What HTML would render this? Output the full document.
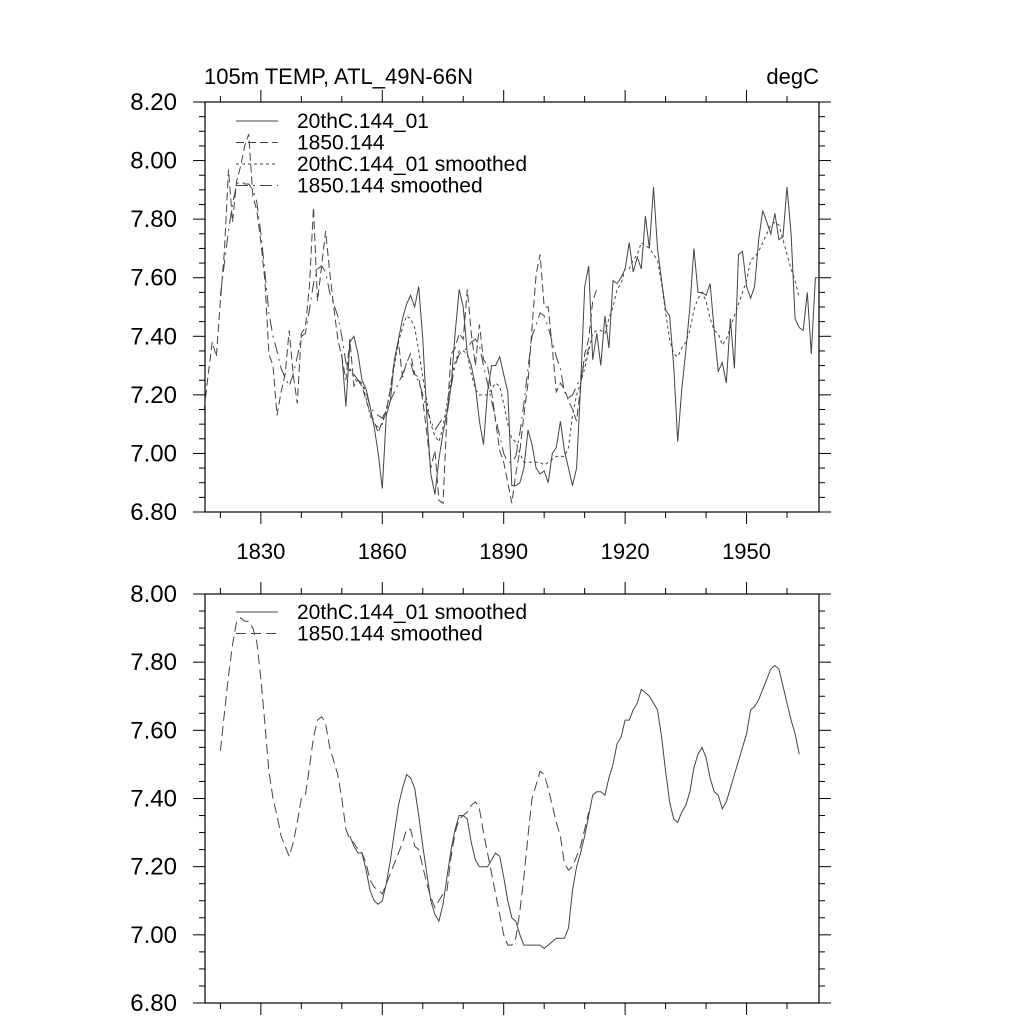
<!DOCTYPE html>
<html><head><meta charset="utf-8">
<style>
html,body{margin:0;padding:0;background:#fff;}
svg{display:block;font-family:"Liberation Sans",sans-serif;}
</style></head>
<body>
<svg id="chart" width="1024" height="1024" viewBox="0 0 1024 1024"></svg>
<script>
// ---- data ----
const yearsDashed = [];for(let y=1816;y<=1913;y++)yearsDashed.push(y);
const series1850 = [7.15,7.27,7.38,7.33,7.52,7.69,7.97,7.79,7.93,7.98,8.05,8.09,7.88,7.83,7.72,7.59,7.34,7.30,7.13,7.21,7.27,7.42,7.27,7.17,7.41,7.43,7.57,7.84,7.52,7.64,7.76,7.62,7.50,7.39,7.33,7.25,7.39,7.23,7.25,7.23,7.18,7.14,7.11,7.07,7.11,7.14,7.22,7.32,7.38,7.26,7.31,7.34,7.27,7.26,7.18,7.07,6.95,7.01,6.84,6.83,7.13,7.34,7.36,7.41,7.39,7.56,7.41,7.30,7.44,7.32,7.30,7.21,7.11,7.01,6.97,6.90,6.83,6.93,7.01,7.13,7.24,7.43,7.61,7.68,7.50,7.50,7.36,7.21,7.24,7.22,7.18,7.15,7.11,7.23,7.34,7.39,7.52,7.56];
const years20th = [];for(let y=1850;y<=1968;y++)years20th.push(y);
const series20th = [7.34,7.16,7.38,7.40,7.34,7.25,7.22,7.16,7.09,7.00,6.88,7.13,7.18,7.32,7.39,7.46,7.51,7.54,7.50,7.57,7.39,7.13,6.93,6.86,6.98,7.07,7.14,7.23,7.41,7.56,7.50,7.34,7.30,7.23,7.11,7.03,7.21,7.30,7.30,7.33,7.27,7.21,6.89,6.89,6.90,6.95,7.08,7.03,6.95,6.93,6.94,6.90,7.00,7.02,7.11,7.01,6.95,6.89,6.95,7.23,7.57,7.64,7.32,7.41,7.30,7.47,7.36,7.59,7.58,7.60,7.63,7.72,7.62,7.67,7.63,7.81,7.70,7.91,7.70,7.59,7.49,7.47,7.30,7.04,7.22,7.35,7.50,7.70,7.55,7.55,7.54,7.58,7.42,7.28,7.31,7.24,7.46,7.29,7.68,7.69,7.57,7.53,7.57,7.73,7.83,7.79,7.75,7.82,7.73,7.74,7.91,7.75,7.46,7.43,7.42,7.55,7.34,7.60,7.60];
const yearsSm1850 = [];for(let y=1820;y<=1911;y++)yearsSm1850.push(y);
const smooth1850 = [7.54,7.65,7.76,7.85,7.92,7.93,7.92,7.92,7.90,7.86,7.75,7.62,7.48,7.40,7.35,7.29,7.26,7.23,7.27,7.33,7.40,7.41,7.49,7.58,7.63,7.64,7.62,7.55,7.51,7.47,7.40,7.31,7.28,7.27,7.25,7.24,7.21,7.16,7.14,7.13,7.12,7.15,7.18,7.21,7.24,7.27,7.31,7.31,7.26,7.25,7.20,7.15,7.11,7.08,7.10,7.12,7.13,7.23,7.30,7.34,7.35,7.36,7.38,7.39,7.37,7.30,7.24,7.18,7.12,7.06,7.00,6.97,6.97,6.99,7.07,7.17,7.29,7.40,7.44,7.48,7.47,7.43,7.38,7.33,7.29,7.21,7.19,7.20,7.23,7.26,7.31,7.36];
const yearsSm20th = [];for(let y=1852;y<=1963;y++)yearsSm20th.push(y);
const smooth20th = [7.29,7.26,7.24,7.24,7.19,7.13,7.10,7.09,7.10,7.15,7.22,7.30,7.38,7.43,7.47,7.46,7.43,7.35,7.26,7.18,7.10,7.06,7.04,7.09,7.17,7.25,7.31,7.35,7.35,7.34,7.27,7.22,7.20,7.20,7.20,7.22,7.24,7.23,7.17,7.10,7.05,7.04,7.00,6.97,6.97,6.97,6.97,6.97,6.96,6.97,6.98,6.99,6.99,6.99,7.02,7.13,7.20,7.24,7.29,7.35,7.41,7.42,7.42,7.41,7.46,7.50,7.56,7.58,7.63,7.63,7.66,7.68,7.72,7.71,7.70,7.68,7.66,7.58,7.48,7.39,7.34,7.33,7.36,7.38,7.42,7.49,7.53,7.55,7.52,7.46,7.42,7.41,7.37,7.39,7.43,7.47,7.51,7.55,7.59,7.66,7.67,7.69,7.72,7.75,7.78,7.79,7.78,7.73,7.68,7.63,7.59,7.53];
const xTickLabels = [1830,1860,1890,1920,1950];
const yTicksTop = ["6.80","7.00","7.20","7.40","7.60","7.80","8.00","8.20"];
const yTicksBot = ["6.80","7.00","7.20","7.40","7.60","7.80","8.00"];

const NS="http://www.w3.org/2000/svg";
const svg=document.getElementById('chart');
const X0=205,X1=819,YR0=1816.2,YR1=1967.9;
function xs(yr){return X0+(yr-YR0)/(YR1-YR0)*(X1-X0);}
function mk(tag,attrs,parent){const e=document.createElementNS(NS,tag);for(const k in attrs)e.setAttribute(k,attrs[k]);(parent||svg).appendChild(e);return e;}
const COL="#444";

function panel(top,bot,vmin,vmax,yLabels,showX,name){
  const g=mk('g',{});
  
  
  const ys=v=>bot-(v-vmin)/(vmax-vmin)*(bot-top);
  const r=mk('rect',{x:X0,y:top,width:X1-X0,height:bot-top,fill:'none',stroke:'#000','stroke-width':1.2},g);
  
  
  for(let v=vmin;v<=vmax+1e-6;v+=0.05){
    const major=Math.abs(Math.round(v*5)-v*5)<1e-6;
    const L=major?12:6;const y=ys(v);
    mk('line',{x1:X0-L,x2:X0,y1:y,y2:y,stroke:'#000','stroke-width':1},g);
    mk('line',{x1:X1,x2:X1+L,y1:y,y2:y,stroke:'#000','stroke-width':1},g);
  }
  yLabels.forEach(s=>{
    const t=mk('text',{x:177,y:ys(parseFloat(s))+8,'text-anchor':'end','font-size':24},g);
    t.textContent=s;
    
    
  });
  for(let yr=1820;yr<=1960;yr+=10){
    const major=(yr-1830)%30===0;const L=major?12:6;const x=xs(yr);
    mk('line',{x1:x,x2:x,y1:bot,y2:bot+L,stroke:'#000','stroke-width':1},g);
    mk('line',{x1:x,x2:x,y1:top-L,y2:top,stroke:'#000','stroke-width':1},g);
  }
  if(showX){xTickLabels.forEach(yr=>{
    const t=mk('text',{x:xs(yr),y:bot+47,'text-anchor':'middle','font-size':22},g);
    t.textContent=yr;
    
    
  });}
  return {g,ys};
}
function line(p,xsArr,vals,dash,name,w){
  const d=vals.map((v,i)=>(i?'L':'M')+xs(xsArr[i]).toFixed(1)+','+p.ys(v).toFixed(1)).join('');
  const e=mk('path',{d:d,fill:'none',stroke:COL,'stroke-width':w||1,'stroke-dasharray':dash||'none'},p.g);
  
  
}
function legend(p,x,y,items){
  items.forEach((it,i)=>{
    const yy=y+i*21.5;
    const l=mk('line',{x1:236,x2:278,y1:yy,y2:yy,stroke:COL,'stroke-width':1,'stroke-dasharray':it[1]||'none'},p.g);
    
    
    const t=mk('text',{x:297,y:yy+7,'font-size':21},p.g);
    t.textContent=it[0];
    
    
  });
}
const p1=panel(102,512,6.8,8.2,yTicksTop,true,'top-panel');
line(p1,yearsDashed,series1850,'8,4','line-1850-144');
line(p1,years20th,series20th,null,'line-20thc-144-01');
line(p1,yearsSm20th,smooth20th,'3,3','line-20thc-smoothed');
line(p1,yearsSm1850,smooth1850,'12,5,2,5','line-1850-smoothed');
legend(p1,236,121,[["20thC.144_01",null],["1850.144","8,4"],["20thC.144_01 smoothed","3,3"],["1850.144 smoothed","12,5,2,5"]]);
const t1=mk('text',{x:204,y:84,'font-size':22});t1.textContent='105m TEMP, ATL_49N-66N';


const t2=mk('text',{x:819,y:84,'font-size':22,'text-anchor':'end'});t2.textContent='degC';


const p2=panel(594,1003,6.8,8.0,yTicksBot,false,'bottom-panel');
line(p2,yearsSm20th,smooth20th,null,'line-20thc-smoothed-bottom');
line(p2,yearsSm1850,smooth1850,'10,5','line-1850-smoothed-bottom');
legend(p2,236,612,[["20thC.144_01 smoothed",null],["1850.144 smoothed","10,5"]]);
</script>
</body></html>
